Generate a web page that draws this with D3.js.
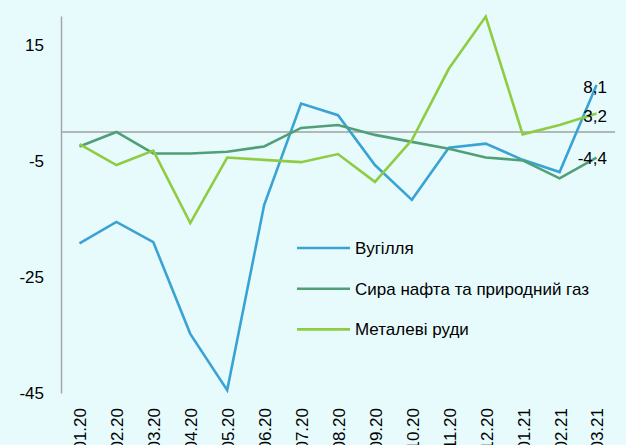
<!DOCTYPE html>
<html>
<head>
<meta charset="utf-8">
<script src="https://cdn.jsdelivr.net/npm/d3@7.9.0/dist/d3.min.js"></script>
<style>
  html, body { margin: 0; padding: 0; background: #e7fbfd; overflow: hidden; }
  svg { display: block; font-family: "Liberation Sans", Arial, sans-serif; }
</style>
</head>
<body>
<svg id="chart"></svg>
<script>
// Months (01.20 .. 03.21)
const months = ['01.20', '02.20', '03.20', '04.20', '05.20', '06.20', '07.20', '08.20',
  '09.20', '10.20', '11.20', '12.20', '01.21', '02.21', '03.21'];

const coal = [-19.2, -15.5, -19.0, -34.8, -44.5, -12.6, 4.9, 2.9, -5.7, -11.7, -2.7, -2.0, -4.8, -6.9, 8.1];
const oilGas = [-2.5, 0.0, -3.7, -3.7, -3.4, -2.5, 0.7, 1.2, -0.5, -1.7, -2.9, -4.4, -4.9, -8.0, -4.4];
const ores = [-2.1, -5.7, -3.2, -15.7, -4.4, -4.8, -5.2, -3.8, -8.6, -1.4, 10.9, 19.9, -0.4, 1.2, 3.2];

const yTicks = [15, -5, -25, -45];

const series = [
  { name: 'Вугілля', values: coal, color: '#3aa3d3' },
  { name: 'Сира нафта та природний газ', values: oilGas, color: '#519f77' },
  { name: 'Металеві руди', values: ores, color: '#8fcc42' },
];

const width = 626;
const height = 445;
const marginLeft = 61;
const marginRight = 11;
const fontSize = 17;

const svg = d3.select('#chart')
  .attr('width', width)
  .attr('height', height);

const x = d3.scalePoint()
  .domain(months)
  .range([marginLeft, width - marginRight])
  .padding(0.5);

const y = d3.scaleLinear()
  .domain([-45, 20])
  .range([393, 16]);

// y axis: plain vertical line + tick labels, no tick marks
svg.append('g')
  .attr('transform', `translate(${marginLeft},0)`)
  .call(d3.axisLeft(y).tickValues(yTicks).tickSize(0).tickPadding(17)
    .tickFormat((d) => String(d)))
  .call((g) => g.select('.domain').attr('stroke', '#a6a6a6').attr('stroke-width', 1.5))
  .call((g) => g.selectAll('text')
    .attr('font-size', fontSize)
    .attr('fill', '#000')
    .attr('font-family', '"Liberation Sans", Arial, sans-serif'));

// zero line
svg.append('line')
  .attr('x1', marginLeft)
  .attr('x2', width - marginRight)
  .attr('y1', y(0))
  .attr('y2', y(0))
  .attr('stroke', '#a0a0a0')
  .attr('stroke-width', 1.5);

// x labels, rotated, hanging below the plot
svg.append('g')
  .selectAll('text')
  .data(months)
  .join('text')
  .attr('transform', (d) => `translate(${x(d) + 1},408) rotate(-90)`)
  .attr('text-anchor', 'end')
  .attr('dy', '0.35em')
  .attr('font-size', fontSize)
  .attr('fill', '#000')
  .text((d) => d);

// lines
const line = d3.line()
  .x((d, i) => x(months[i]))
  .y((d) => y(d));

svg.append('g')
  .selectAll('path')
  .data(series)
  .join('path')
  .attr('d', (d) => line(d.values))
  .attr('fill', 'none')
  .attr('stroke', (d) => d.color)
  .attr('stroke-width', 2.6)
  .attr('stroke-linejoin', 'miter');

// last value labels
const last = months.length - 1;
const labelOffsets = [2, 1, 3];
svg.append('g')
  .selectAll('text')
  .data(series)
  .join('text')
  .attr('x', 607)
  .attr('y', (d, i) => y(d.values[last]) + labelOffsets[i])
  .attr('dy', '0.35em')
  .attr('text-anchor', 'end')
  .attr('font-size', fontSize)
  .attr('fill', '#000')
  .text((d) => d3.format('.1f')(d.values[last]).replace('.', ',').replace('−', '-'));

// legend
const legend = svg.append('g')
  .selectAll('g')
  .data(series)
  .join('g')
  .attr('transform', (d, i) => `translate(297,${248 + i * 40.7})`);

legend.append('line')
  .attr('x1', 0)
  .attr('x2', 53)
  .attr('stroke', (d) => d.color)
  .attr('stroke-width', 2.6);

legend.append('text')
  .attr('x', 58)
  .attr('dy', '0.35em')
  .attr('font-size', fontSize)
  .attr('fill', '#000')
  .text((d) => d.name);
</script>
</body>
</html>
